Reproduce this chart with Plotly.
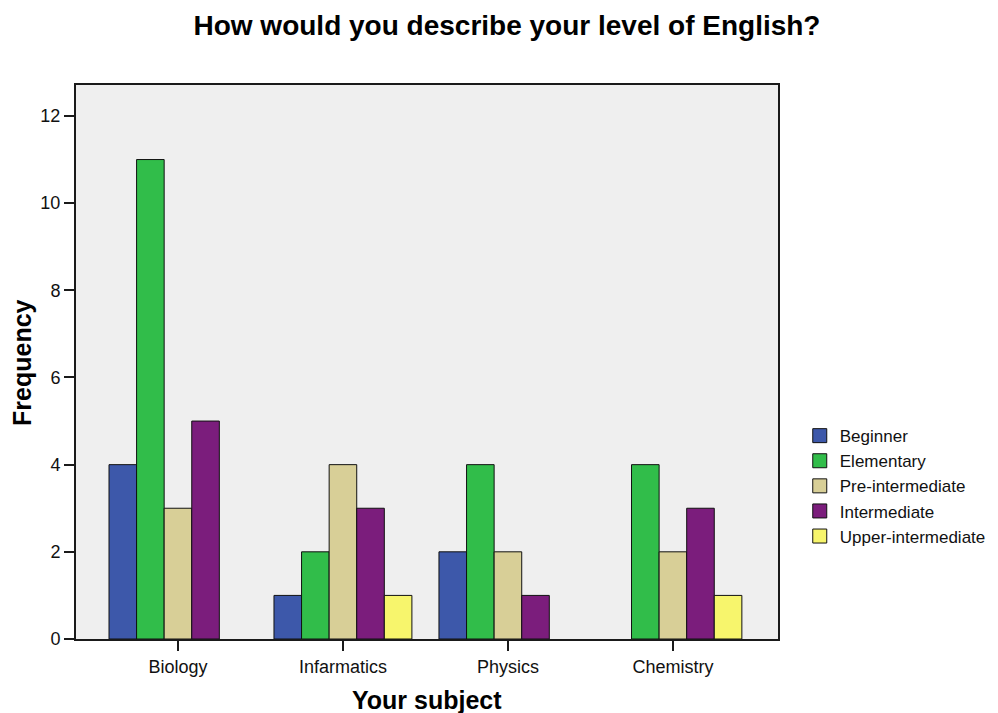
import plotly.graph_objects as go

subjects = ["Biology", "Infarmatics", "Physics", "Chemistry"]
levels = ["Beginner", "Elementary", "Pre-intermediate", "Intermediate", "Upper-intermediate"]
beginner = [4, 1, 2, 0]
elementary = [11, 2, 4, 4]
pre_intermediate = [3, 4, 2, 2]
intermediate = [5, 3, 1, 3]
upper_intermediate = [0, 1, 0, 1]
y_ticks = [0, 2, 4, 6, 8, 10, 12]
series = [beginner, elementary, pre_intermediate, intermediate, upper_intermediate]
colors = ["#3d58aa", "#31bd4a", "#d8cf97", "#7b1d7c", "#f7f56c"]

fig = go.Figure()
for name, vals, col in zip(levels, series, colors):
    fig.add_trace(go.Bar(
        x=subjects, y=vals, name=name, showlegend=False,
        marker=dict(color=col,
                    line=dict(color="#111111", width=[1 if v > 0 else 0 for v in vals])),
    ))
# legend entries with square swatches
for name, col in zip(levels, colors):
    fig.add_trace(go.Scatter(
        x=[None], y=[None], mode="markers", name=name,
        marker=dict(symbol="square", size=14, color=col,
                    line=dict(color="#111111", width=1)),
    ))

fig.update_layout(
    width=998, height=713,
    barmode="group", bargap=0.164, bargroupgap=0,
    margin=dict(l=76, r=220, t=85, b=74, autoexpand=False),
    paper_bgcolor="white", plot_bgcolor="#efefef",
    font=dict(family="Arial, Liberation Sans, sans-serif", color="#111111"),
    title=dict(text="<b>How would you describe your level of English?</b>",
               x=0.508, xanchor="center", y=0.965, yanchor="middle",
               font=dict(size=28, color="#000000")),
    legend=dict(x=1.031, y=0.276, xanchor="left", yanchor="middle",
                font=dict(size=17), borderwidth=0,
                tracegroupgap=0, itemwidth=30,
                bgcolor="rgba(0,0,0,0)"),
    showlegend=True,
    annotations=[
        dict(text="<b>Your subject</b>", xref="paper", yref="paper",
             x=0.5, y=-0.111, xanchor="center", yanchor="middle",
             showarrow=False, font=dict(size=25, color="#000000")),
        dict(text="<b>Frequency</b>", xref="paper", yref="paper",
             x=-0.077, y=0.5, xanchor="center", yanchor="middle", textangle=-90,
             showarrow=False, font=dict(size=25, color="#000000")),
    ],
)
fig.update_xaxes(
    type="category", range=[-0.618, 3.637], automargin=False,
    showline=True, linecolor="#1a1a1a", linewidth=2, mirror=True,
    ticks="outside", ticklen=10, tickcolor="#1a1a1a", tickwidth=1.5,
    tickfont=dict(size=18),
    showgrid=False,
)
fig.update_yaxes(
    range=[0, 12.71], tickvals=y_ticks, automargin=False,
    showline=True, linecolor="#1a1a1a", linewidth=2, mirror=True,
    ticks="outside", ticklen=10, tickcolor="#1a1a1a", tickwidth=1.5,
    tickfont=dict(size=18),
    showgrid=False, zeroline=False,
)

fig.write_html(
    "out.html",
    config={"displayModeBar": False},
    post_script="document.body.style.margin='0';document.body.style.overflow='hidden';",
)
